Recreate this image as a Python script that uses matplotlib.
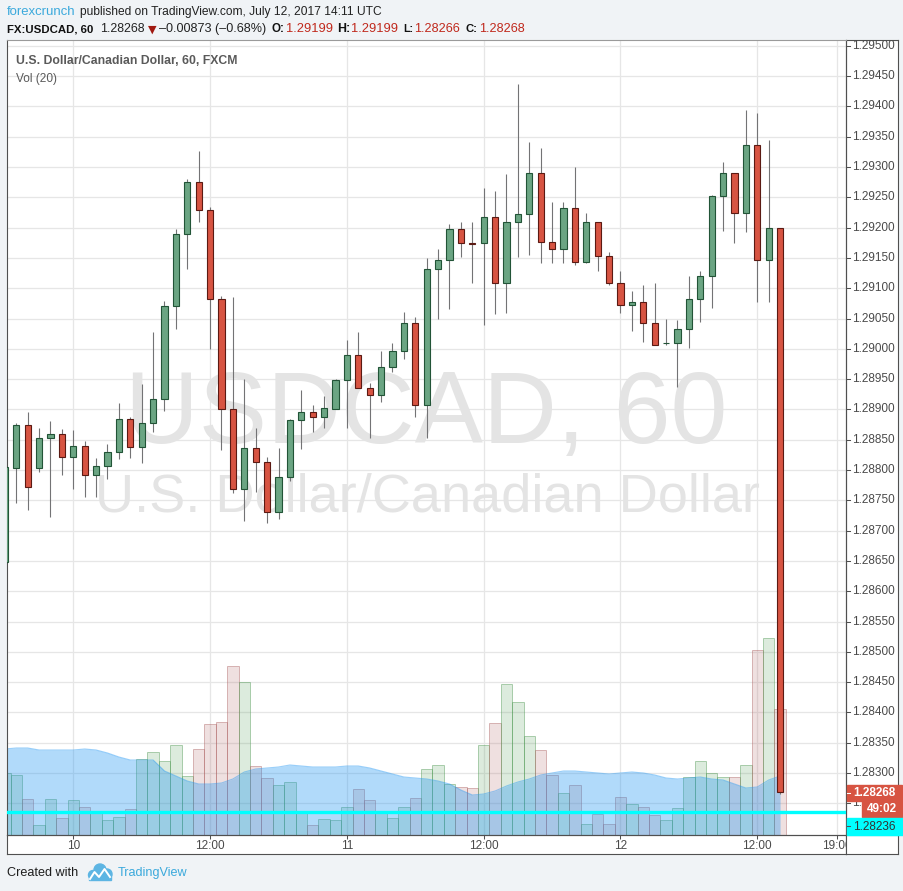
import matplotlib
matplotlib.use('Agg')
import matplotlib.pyplot as plt
import matplotlib.transforms as mtransforms
from matplotlib.patches import Rectangle, Circle
import numpy as np

# hourly bars, hour offset from 10 Jul 2017 00:00 (FX:USDCAD, 60)
hours = list(range(-6, 63))
opens = [1.28648, 1.28804, 1.28875, 1.28803, 1.28852, 1.28859, 1.28821, 1.28839, 1.28791, 1.28806,
         1.28829, 1.28885, 1.28838, 1.28877, 1.28917, 1.29071, 1.29189, 1.29276, 1.29229, 1.29082,
         1.28900, 1.28768, 1.28836, 1.28814, 1.28730, 1.28788, 1.28882, 1.28895, 1.28887, 1.28901,
         1.28948, 1.28989, 1.28935, 1.28923, 1.28970, 1.28996, 1.29042, 1.28908, 1.29131, 1.29146,
         1.29197, 1.29174, 1.29174, 1.29217, 1.29108, 1.29209, 1.29222, 1.29290, 1.29176, 1.29164,
         1.29232, 1.29143, 1.29210, 1.29153, 1.29108, 1.29073, 1.29078, 1.29042, 1.29009, 1.29009,
         1.29032, 1.29082, 1.29120, 1.29252, 1.29290, 1.29224, 1.29336, 1.29146, 1.29199]
highs = [1.28812, 1.28877, 1.28896, 1.28869, 1.28881, 1.28868, 1.28866, 1.28848, 1.28820, 1.28843,
         1.28911, 1.28887, 1.28942, 1.29028, 1.29079, 1.29198, 1.29281, 1.29326, 1.29234, 1.29087,
         1.29086, 1.28950, 1.28869, 1.28821, 1.28836, 1.28884, 1.28932, 1.28907, 1.28922, 1.28950,
         1.29015, 1.29027, 1.28943, 1.28996, 1.29009, 1.29060, 1.29052, 1.29150, 1.29164, 1.29206,
         1.29209, 1.29210, 1.29265, 1.29260, 1.29288, 1.29437, 1.29342, 1.29331, 1.29242, 1.29243,
         1.29300, 1.29224, 1.29210, 1.29159, 1.29128, 1.29095, 1.29105, 1.29108, 1.29049, 1.29047,
         1.29120, 1.29128, 1.29253, 1.29308, 1.29290, 1.29394, 1.29389, 1.29344, 1.29199]
lows = [1.28640, 1.28746, 1.28734, 1.28797, 1.28722, 1.28791, 1.28768, 1.28755, 1.28755, 1.28785,
        1.28818, 1.28819, 1.28811, 1.28863, 1.28898, 1.29032, 1.29131, 1.29210, 1.28999, 1.28833,
        1.28762, 1.28716, 1.28763, 1.28713, 1.28719, 1.28782, 1.28834, 1.28863, 1.28870, 1.28901,
        1.28870, 1.28935, 1.28853, 1.28913, 1.28961, 1.28983, 1.28887, 1.28852, 1.29049, 1.29065,
        1.29152, 1.29108, 1.29039, 1.29057, 1.29059, 1.29152, 1.29154, 1.29141, 1.29141, 1.29141,
        1.29138, 1.29141, 1.29129, 1.29106, 1.29059, 1.29030, 1.29012, 1.29006, 1.29006, 1.28937,
        1.29002, 1.29045, 1.29067, 1.29194, 1.29175, 1.29192, 1.29077, 1.29077, 1.28266]
closes = [1.28805, 1.28875, 1.28772, 1.28852, 1.28859, 1.28821, 1.28839, 1.28791, 1.28806, 1.28829,
          1.28885, 1.28838, 1.28877, 1.28917, 1.29071, 1.29189, 1.29276, 1.29229, 1.29082, 1.28900,
          1.28768, 1.28836, 1.28814, 1.28730, 1.28788, 1.28882, 1.28895, 1.28887, 1.28902, 1.28948,
          1.28989, 1.28935, 1.28923, 1.28970, 1.28996, 1.29042, 1.28908, 1.29131, 1.29146, 1.29197,
          1.29174, 1.29173, 1.29217, 1.29108, 1.29209, 1.29222, 1.29290, 1.29176, 1.29164, 1.29232,
          1.29143, 1.29210, 1.29153, 1.29108, 1.29073, 1.29078, 1.29042, 1.29007, 1.29010, 1.29032,
          1.29082, 1.29120, 1.29252, 1.29290, 1.29224, 1.29336, 1.29146, 1.29200, 1.28268]
volume = [62, 60, 36, 10, 36, 17, 35, 28, 22, 15, 18, 26, 76, 83, 74, 90, 59, 86, 111, 113,
          169, 153, 69, 57, 50, 53, 22, 10, 16, 15, 28, 46, 35, 22, 17, 28, 37, 66, 70, 51,
          48, 47, 90, 112, 151, 133, 99, 85, 60, 42, 50, 11, 21, 11, 38, 31, 28, 20, 15, 27,
          58, 74, 62, 58, 58, 70, 185, 197, 126]
vol_ma = [86, 87, 87, 85, 85, 85, 85, 86, 85, 82, 78, 75, 75, 75, 64, 59, 54, 51, 51, 52,
          56, 63, 66, 67, 68, 70, 69, 68, 68, 68, 69, 69, 67, 64, 61, 58, 57, 56, 54, 51,
          45, 40, 41, 44, 49, 53, 56, 60, 62, 64, 64, 63, 62, 61, 62, 63, 62, 60, 57, 56,
          57, 58, 56, 55, 51, 47, 48, 55, 59]

price_ticks = np.arange(1.2825, 1.29501, 0.0005)
time_ticks = [0, 12, 24, 36, 48, 60, 67]
time_labels = ['10', '12:00', '11', '12:00', '12', '12:00', '19:00']
last_price = 1.28268
line_price = 1.28236

UP, UP_EDGE = '#6ba583', '#225437'
DN, DN_EDGE = '#d75442', '#5b1a13'
WICK = '#737375'
FRAME = '#505050'
GRID = '#e6e6e6'
TXT = '#4a4a4a'
BLUE = '#3ba9dc'
FONT = 'Liberation Sans'

W, H = 904, 891
fig = plt.figure(figsize=(W / 100, H / 100), dpi=100, facecolor='#f0f3f6')
# image pixel coords (origin top-left)
pix = mtransforms.Affine2D().scale(1 / W, -1 / H).translate(0, 1) + fig.transFigure
rend = fig.canvas.get_renderer()


def frac(x0, y0, x1, y1):
    return [x0 / W, 1 - y1 / H, (x1 - x0) / W, (y1 - y0) / H]


def fit(t, width):
    w = t.get_window_extent(rend).width
    t.set_fontsize(t.get_fontsize() * width / w)
    return t


def bare(a, face='white'):
    a.set_facecolor(face)
    a.set_xticks([])
    a.set_yticks([])
    for s in a.spines.values():
        s.set_color(FRAME)
        s.set_linewidth(0.8)


XL = ((7 - 73.3) / 11.4, (846 - 73.3) / 11.4)
YL = (1.281977, 1.295096)

# volume layer (behind)
axv = fig.add_axes(frac(7, 40, 846, 835))
bare(axv)
for s in axv.spines.values():
    s.set_visible(False)
axv.set_xlim(XL)
axv.set_ylim(0, 795)

# price layer
ax = fig.add_axes(frac(7, 40, 846, 835))
bare(ax)
ax.patch.set_visible(False)
ax.set_zorder(axv.get_zorder() + 1)
ax.set_xlim(XL)
ax.set_ylim(YL)
ax.spines['top'].set_color('#9a9a9a')

# grid
gtr = mtransforms.blended_transform_factory(axv.transAxes, ax.transData)
axv.hlines(price_ticks, 0, 1, transform=gtr, color=GRID, lw=0.9, zorder=0)
axv.vlines(time_ticks, 0, 1, transform=axv.get_xaxis_transform(), color=GRID, lw=0.9, zorder=0)

# watermark
wm1 = axv.text(426, 443, 'USDCAD, 60', transform=pix, ha='center', va='baseline',
               color='#e4e4e4', family=FONT, fontsize=70, zorder=0.5, clip_on=True)
fit(wm1, 603)
wm2 = axv.text(428, 512, 'U.S. Dollar/Canadian Dollar', transform=pix, ha='center', va='baseline',
               color='#e4e4e4', family=FONT, fontsize=38, zorder=0.5, clip_on=True)
fit(wm2, 664)

o = np.array(opens)
c = np.array(closes)
up = c >= o

# volume bars + Vol(20) area
vface = [(80 / 255, 155 / 255, 85 / 255, 0.2) if u else (175 / 255, 100 / 255, 100 / 255, 0.2) for u in up]
vedge = [(80 / 255, 155 / 255, 85 / 255, 0.45) if u else (175 / 255, 100 / 255, 100 / 255, 0.45) for u in up]
axv.bar(hours, volume, width=1.0, color=vface, edgecolor=vedge, linewidth=0.7, zorder=2)
axv.fill_between(hours, 0, vol_ma, color=(33 / 255, 150 / 255, 243 / 255, 0.35), lw=0, zorder=3)
axv.plot(hours, vol_ma, color=(33 / 255, 150 / 255, 243 / 255, 0.45), lw=0.8, zorder=3)

# candles
ax.vlines(hours, lows, highs, color=WICK, lw=0.8, zorder=2)
ax.bar(hours, np.maximum(np.abs(c - o), 1.2e-5), bottom=np.minimum(o, c), width=0.56,
       color=[UP if u else DN for u in up], edgecolor=[UP_EDGE if u else DN_EDGE for u in up],
       linewidth=0.8, zorder=3)
ax.axhline(line_price, color='#00ffff', lw=2.4, zorder=4)

# price scale
axp = fig.add_axes(frac(846, 40, 898, 835))
bare(axp)
axp.spines['bottom'].set_visible(False)
axp.set_xlim(0, 1)
axp.set_ylim(YL)
for p in price_ticks:
    axp.plot([0, 0.08], [p, p], color=FRAME, lw=0.75, clip_on=True)
    lbl = axp.text(0.115, p, f'{p:.5f}', ha='left', va='center', fontsize=8.5, color=TXT,
                   family=FONT, clip_on=True)
    if p < 1.2828:
        # mostly hidden behind the last-price / countdown tags, as in the original
        lbl.set_clip_path(Rectangle((846, 801), 16, 17, transform=pix))

# time scale
axt = fig.add_axes(frac(7, 835, 846, 854))
bare(axt)
axt.set_xlim(XL)
axt.set_ylim(0, 1)
axt.vlines(time_ticks, 0.78, 1, color=FRAME, lw=0.75)
for h, lab in zip(time_ticks, time_labels):
    axt.text(h, 0.42, lab, ha='center', va='center', fontsize=8.5, color=TXT,
             family=FONT, clip_on=True)
axc = fig.add_axes(frac(846, 835, 898, 854))
bare(axc)

# last price / countdown / price line labels
fig.add_artist(Rectangle((847, 785), 55, 16, transform=pix, color=DN, zorder=20))
fig.add_artist(Rectangle((862, 801), 40, 16, transform=pix, color=DN, zorder=20))
fig.add_artist(Rectangle((847, 818), 57, 17, transform=pix, color='#00ffff', zorder=20))
fig.add_artist(plt.Line2D([847, 850], [793, 793], transform=pix, color='white', lw=0.75, zorder=21))
fig.add_artist(plt.Line2D([847, 850], [826, 826], transform=pix, color=FRAME, lw=0.75, zorder=21))
fig.text(853, 793.5, f'{last_price:.5f}', transform=pix, ha='left', va='center', color='white',
         fontsize=8.5, weight='bold', family=FONT, zorder=21)
fig.text(867, 809.5, '49:02', transform=pix, ha='left', va='center', color='white',
         fontsize=8.5, weight='bold', family=FONT, zorder=21)
fig.text(853, 826.5, f'{line_price:.5f}', transform=pix, ha='left', va='center', color='#333333',
         fontsize=8.5, family=FONT, zorder=21)

# header, each piece fitted to its span in the original
line1 = [(7, 'forexcrunch', BLUE, 'normal', 69),
         (80, 'published on TradingView.com, July 12, 2017 14:11 UTC', '#222222', 'normal', 302)]
for x, s, col, wt, wd in line1:
    fit(fig.text(x, 12, s, transform=pix, va='center', fontsize=10, color=col, weight=wt,
                 family=FONT), wd)

line2 = [(7, 'FX:USDCAD, 60', '#111111', 'bold', 86), (100, '1.28268', '#222222', 'normal', 45),
         (159, '–0.00873 (–0.68%)', '#222222', 'normal', 108),
         (272, 'O:', '#111111', 'bold', 13), (286, '1.29199', '#c0281c', 'normal', 46),
         (337, 'H:', '#111111', 'bold', 13), (351, '1.29199', '#c0281c', 'normal', 46),
         (403, 'L:', '#111111', 'bold', 10), (414, '1.28266', '#c0281c', 'normal', 46),
         (466, 'C:', '#111111', 'bold', 12), (479, '1.28268', '#c0281c', 'normal', 46)]
for x, s, col, wt, wd in line2:
    t = fig.text(x, 29, s, transform=pix, va='center', fontsize=10, color=col, weight=wt, family=FONT)
    fit(t, wd)
    if t.get_fontsize() > 10:
        t.set_fontsize(10)
fig.text(152, 30, '▼', transform=pix, ha='center', va='center', fontsize=8,
         color='#a01810', family='DejaVu Sans')

# legend inside chart
lg = fig.text(15.7, 61, 'U.S. Dollar/Canadian Dollar, 60, FXCM', transform=pix, va='center',
              fontsize=9, color='#5a5a5a', weight='bold', family=FONT, zorder=5)
fit(lg, 221)
vl = fig.text(15.7, 79, 'Vol (20)', transform=pix, va='center', fontsize=9, color='#5a5a5a',
              family=FONT, zorder=5)
fit(vl, 41)

# footer
cw = fig.text(7, 873, 'Created with', transform=pix, va='center', fontsize=9, color='#1e1e1e',
              family=FONT)
fit(cw, 71)
tv = fig.text(118, 873, 'TradingView', transform=pix, va='center', fontsize=9, color=BLUE,
              family=FONT)
fit(tv, 70)
for cx, cy, r in [(93, 875, 4.5), (100, 870, 6), (107, 874, 5)]:
    fig.add_artist(Circle((cx, cy), r, transform=pix, color='#5db5e3', zorder=5))
fig.add_artist(Rectangle((89, 874), 22, 6, transform=pix, color='#5db5e3', zorder=5))
fig.add_artist(plt.Line2D([90, 94.5, 99, 104.5, 110], [879, 872, 877, 869, 877], transform=pix,
                          color='white', lw=1.4, zorder=6))

fig.savefig('out.png', dpi=100, facecolor=fig.get_facecolor())
